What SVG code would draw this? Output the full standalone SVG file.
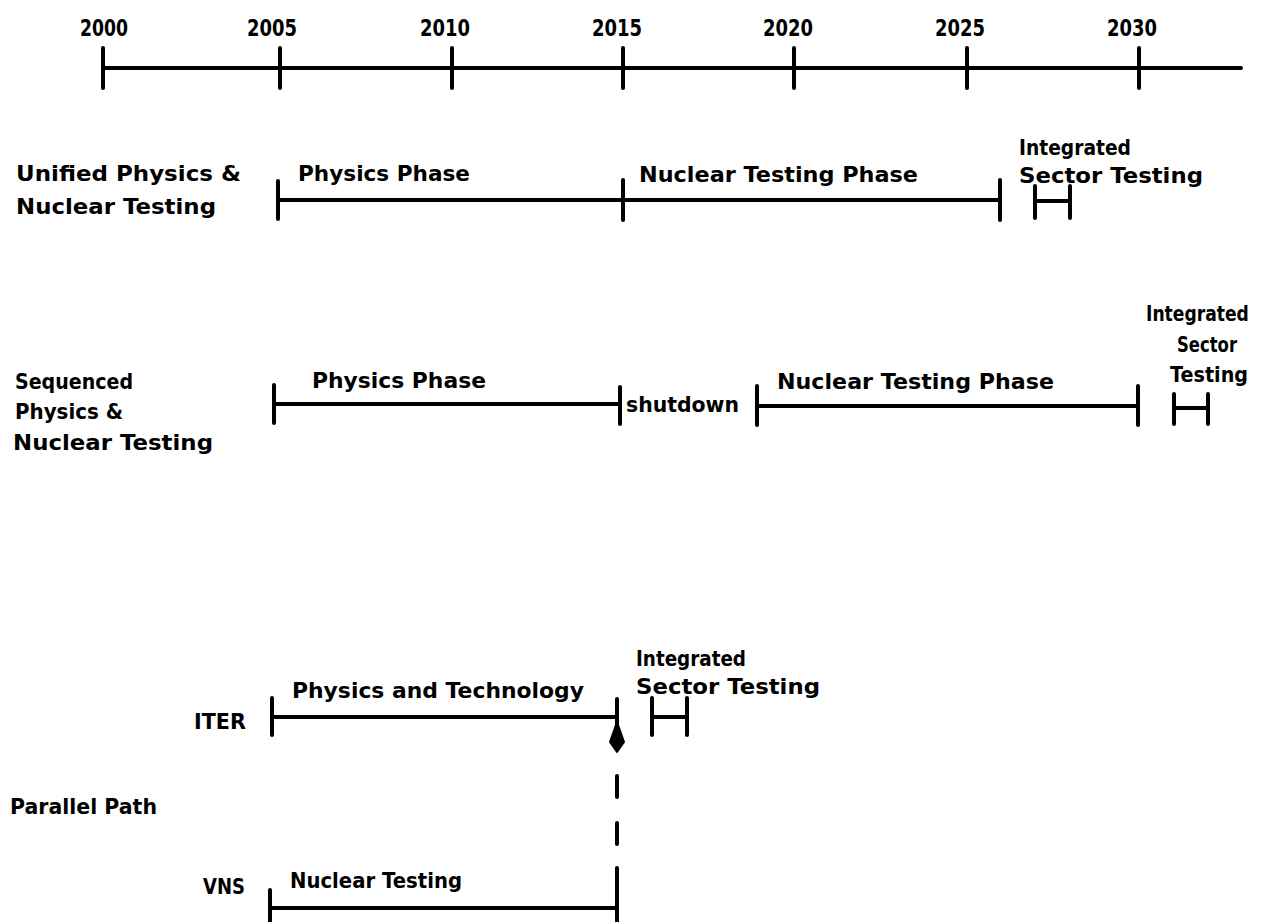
<svg xmlns="http://www.w3.org/2000/svg" width="1261" height="922" viewBox="0 0 1261 922">
<style>
text{font-family:"DejaVu Sans","Liberation Sans",sans-serif;font-weight:bold;font-size:22px;fill:#000}
.yr{text-anchor:middle;font-size:23px}
.ln{stroke:#000;stroke-width:4;stroke-linecap:round;fill:none}
.tk{stroke:#000;stroke-width:4;stroke-linecap:round;fill:none}
</style>
<rect width="1261" height="922" fill="#fff"/>
<g id="axis">
<path class="ln" d="M103 68H1241"/>
<path class="tk" d="M103 48V88M280 48V88M452 48V88M623 48V88M794 48V88M967 48V88M1139 48V88"/>
<text class="yr" x="104" y="36" textLength="48" lengthAdjust="spacingAndGlyphs">2000</text>
<text class="yr" x="272" y="36" textLength="50" lengthAdjust="spacingAndGlyphs">2005</text>
<text class="yr" x="445" y="36" textLength="50" lengthAdjust="spacingAndGlyphs">2010</text>
<text class="yr" x="617" y="36" textLength="50" lengthAdjust="spacingAndGlyphs">2015</text>
<text class="yr" x="788" y="36" textLength="50" lengthAdjust="spacingAndGlyphs">2020</text>
<text class="yr" x="960" y="36" textLength="50" lengthAdjust="spacingAndGlyphs">2025</text>
<text class="yr" x="1132" y="36" textLength="50" lengthAdjust="spacingAndGlyphs">2030</text>
</g>
<g id="unified">
<text x="16" y="181" textLength="225" lengthAdjust="spacingAndGlyphs">Unified Physics &amp;</text>
<text x="16" y="214" textLength="200" lengthAdjust="spacingAndGlyphs">Nuclear Testing</text>
<text x="298" y="181" textLength="172" lengthAdjust="spacingAndGlyphs">Physics Phase</text>
<text x="639" y="182" textLength="279" lengthAdjust="spacingAndGlyphs">Nuclear Testing Phase</text>
<text x="1019" y="155" textLength="112" lengthAdjust="spacingAndGlyphs">Integrated</text>
<text x="1019" y="183" textLength="184" lengthAdjust="spacingAndGlyphs">Sector Testing</text>
<path class="ln" d="M278 200H1000M1035 201H1070"/>
<path class="tk" d="M278 181V219M623 180V220M1000 180V220M1035 186V218M1070 186V218"/>
</g>
<g id="sequenced">
<text x="15" y="389" textLength="118" lengthAdjust="spacingAndGlyphs">Sequenced</text>
<text x="15" y="419" textLength="108" lengthAdjust="spacingAndGlyphs">Physics &amp;</text>
<text x="13" y="450" textLength="200" lengthAdjust="spacingAndGlyphs">Nuclear Testing</text>
<text x="312" y="388" textLength="174" lengthAdjust="spacingAndGlyphs">Physics Phase</text>
<text x="626" y="412" textLength="113" lengthAdjust="spacingAndGlyphs">shutdown</text>
<text x="777" y="389" textLength="277" lengthAdjust="spacingAndGlyphs">Nuclear Testing Phase</text>
<text transform="translate(1146 321) scale(0.78 1)">Integrated</text>
<text x="1177" y="352" textLength="60" lengthAdjust="spacingAndGlyphs">Sector</text>
<text x="1170" y="382" textLength="78" lengthAdjust="spacingAndGlyphs">Testing</text>
<path class="ln" d="M274 404H620M757 406H1138M1174 408H1208"/>
<path class="tk" d="M274 385V423M620 387V424M757 386V425M1138 386V425M1174 394V424M1208 394V424"/>
</g>
<g id="iter">
<text x="194" y="729" textLength="52" lengthAdjust="spacingAndGlyphs">ITER</text>
<text x="292" y="698" textLength="292" lengthAdjust="spacingAndGlyphs">Physics and Technology</text>
<text x="636" y="666" textLength="110" lengthAdjust="spacingAndGlyphs">Integrated</text>
<text x="636" y="694" textLength="184" lengthAdjust="spacingAndGlyphs">Sector Testing</text>
<path class="ln" d="M272 717H617M652 717H687"/>
<path class="tk" d="M272 698V735M617 699V724M652 698V735M687 698V735"/>
</g>
<g id="parallel">
<text x="10" y="814" textLength="147" lengthAdjust="spacingAndGlyphs">Parallel Path</text>
</g>
<g id="vns">
<text x="203" y="894" textLength="42" lengthAdjust="spacingAndGlyphs">VNS</text>
<text x="290" y="888" textLength="172" lengthAdjust="spacingAndGlyphs">Nuclear Testing</text>
<path class="ln" d="M270 908H617"/>
<path class="tk" d="M270 890V922M617 868V922"/>
</g>
<g id="connectors">
<path class="tk" d="M617 776V797M617 823V844"/>
<path d="M617 722L610 742L617 752L624 742Z" fill="#000" stroke="#000" stroke-width="2" stroke-linejoin="round"/>
</g>
</svg>
